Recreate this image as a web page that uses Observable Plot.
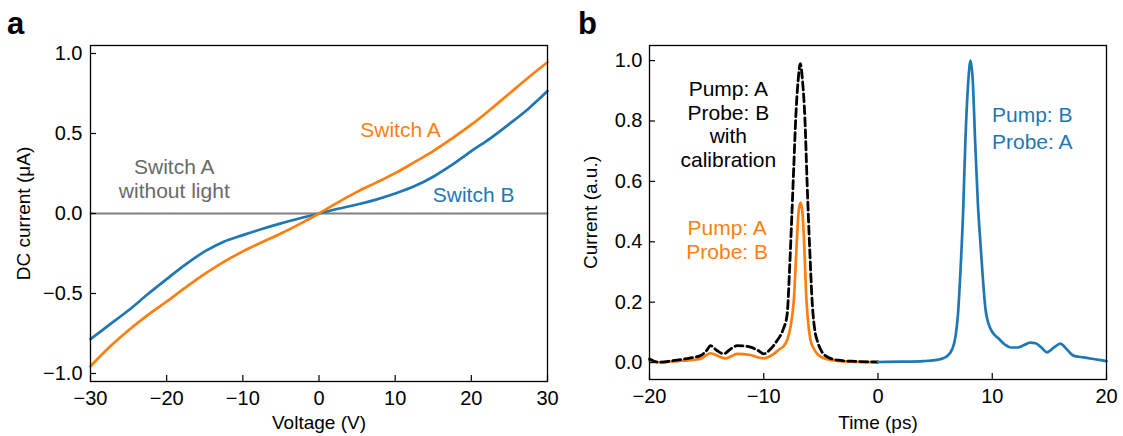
<!DOCTYPE html>
<html>
<head>
<meta charset="utf-8">
<script src="https://cdn.jsdelivr.net/npm/d3@7"></script>
<script src="https://cdn.jsdelivr.net/npm/@observablehq/plot@0.6"></script>
<style>
  html, body { margin: 0; padding: 0; background: #fff; }
  #root { position: relative; width: 1123px; height: 436px; overflow: hidden; font-family: "Liberation Sans", Arial, sans-serif; }
  .panel { position: absolute; top: 0; }
  .letter { position: absolute; font-weight: bold; font-size: 31px; line-height: 1; font-family: "Liberation Sans", Arial, sans-serif; }
</style>
</head>
<body>
<div id="root">
  <div id="pa" class="panel" style="left:0px"></div>
  <div id="pb" class="panel" style="left:561px"></div>
  <div class="letter" style="left:7px; top:8px">a</div>
  <div class="letter" style="left:578px; top:8px">b</div>
</div>
<script>
// ---------- Panel a data ----------
const aVoltage = [-30,-27.5,-25,-22.5,-20,-17.5,-15,-12.5,-10,-7.5,-5,-2.5,0,2.5,5,7.5,10,12.5,15,17.5,20,22.5,25,27.5,30];
const aSwitchA = [-0.955,-0.835,-0.73,-0.635,-0.55,-0.462,-0.378,-0.302,-0.237,-0.18,-0.125,-0.065,0,0.07,0.135,0.193,0.252,0.32,0.39,0.47,0.555,0.65,0.75,0.85,0.945];
const aSwitchB = [-0.785,-0.695,-0.605,-0.505,-0.41,-0.318,-0.237,-0.176,-0.135,-0.097,-0.062,-0.03,0,0.03,0.056,0.087,0.125,0.17,0.23,0.305,0.39,0.47,0.56,0.655,0.765];
const aDarkVoltage = [-30, 30];
const aDarkCurrent = [0, 0];
const aXTicks = [-30,-20,-10,0,10,20,30];
const aYTicks = [-1,-0.5,0,0.5,1];
const aLabels = ["Switch A\nwithout light", "Switch A", "Switch B"];
const aLabelX = [-19, 10.7, 20.3];
const aLabelY = [0.22, 0.525, 0.12];

// ---------- Panel b data ----------
const bTimeA = [-20,-19,-17.5,-16,-15.5,-14.66,-14,-13.35,-12.8,-12.32,-11.16,-10.5,-10,-9.5,-9.12,-8.6,-8.24,-7.95,-7.65,-7.37,-7.07,-6.95,-6.78,-6.62,-6.5,-6.26,-6.05,-5.9,-5.6,-5.32,-4.8,-4,-2.5,0];
const bPumpA = [0.007,0.001,0.005,0.01,0.013,0.031,0.022,0.014,0.022,0.029,0.025,0.017,0.014,0.02,0.029,0.045,0.055,0.075,0.12,0.205,0.426,0.5,0.53,0.5,0.426,0.205,0.11,0.073,0.045,0.029,0.015,0.008,0.003,0.001];
const bTimeCal = [-20,-19.2,-18,-16.5,-15.54,-15,-14.66,-14.1,-13.5,-12.9,-12.32,-11.16,-10.5,-10,-9.4,-8.83,-8.3,-7.95,-7.75,-7.55,-7.37,-7.2,-7.0,-6.8,-6.6,-6.4,-6.2,-5.97,-5.76,-5.5,-5.32,-4.9,-4.5,-3.5,-2,0];
const bPumpACal = [0.012,0.001,0.006,0.015,0.023,0.04,0.056,0.04,0.029,0.045,0.056,0.051,0.04,0.029,0.045,0.073,0.11,0.16,0.3,0.48,0.65,0.81,0.93,0.99,0.93,0.81,0.59,0.37,0.2,0.1,0.073,0.035,0.02,0.008,0.004,0.002];
const bTimeB = [0,2,4,5,5.5,6,6.5,6.8,7.0,7.2,7.45,7.65,7.9,8.1,8.3,8.5,8.75,8.96,9.4,9.8,10.1,10.6,11.1,11.6,12.2,12.8,13.3,13.8,14.3,14.8,15.4,15.96,16.5,17.1,18,19,20];
const bPumpB = [0.002,0.003,0.005,0.008,0.012,0.02,0.045,0.09,0.16,0.29,0.5,0.735,0.93,1.0,0.93,0.735,0.52,0.40,0.18,0.116,0.096,0.078,0.06,0.05,0.05,0.058,0.066,0.064,0.05,0.034,0.05,0.063,0.045,0.023,0.017,0.011,0.005];
const bXTicks = [-20,-10,0,10,20];
const bYTicks = [0,0.2,0.4,0.6,0.8,1.0];
const bLabels = ["Pump: A\nProbe: B\nwith\ncalibration", "Pump: A\nProbe: B", "Pump: B\nProbe: A"];
const bLabelX = [-13.1, -13.2, 13.5];
const bLabelY = [0.79, 0.407, 0.78];

// ---------- styles ----------
const ORANGE = "#ff7f0e", BLUE = "#1f77b4", GRAY = "#808080", DIMGRAY = "#696969";
const FONT = "'Liberation Sans', Arial, sans-serif";
const TICK_FS = 20, LABEL_FS = 19, NOTE_FS = 21;
const fmt1 = d3.format(".1f");
const fmt0 = d3.format("d");

function inwardTicks(xt, yt, innerW, innerH) {
  return [
    Plot.tickX(xt, {x: d => d, insetTop: innerH - 6, stroke: "black", strokeWidth: 1.2}),
    Plot.tickY(yt, {y: d => d, insetRight: innerW - 6, stroke: "black", strokeWidth: 1.2})
  ];
}

// ---------- Panel a ----------
{
  const W = 561, H = 436, mL = 90, mR = 14, mT = 45, mB = 55;
  const annot = aLabels.map((t, i) => ({t, x: aLabelX[i], y: aLabelY[i]}));
  const colors = [DIMGRAY, ORANGE, BLUE];
  const chart = Plot.plot({
    width: W, height: H, marginLeft: mL, marginRight: mR, marginTop: mT, marginBottom: mB,
    style: {fontFamily: FONT, fontSize: LABEL_FS + "px", color: "black", background: "transparent"},
    x: {domain: [-30, 30]},
    y: {domain: [-1.05, 1.05]},
    marks: [
      Plot.line(aDarkCurrent, {x: aDarkVoltage, y: aDarkCurrent, stroke: GRAY, strokeWidth: 2}),
      Plot.line(aSwitchB, {x: aVoltage, y: aSwitchB, stroke: BLUE, strokeWidth: 2.7, curve: "catmull-rom"}),
      Plot.line(aSwitchA, {x: aVoltage, y: aSwitchA, stroke: ORANGE, strokeWidth: 2.7, curve: "catmull-rom"}),
      Plot.text(annot, {x: "x", y: "y", text: "t", fill: (d, i) => colors[i], fontSize: NOTE_FS, lineHeight: 1.15, textAnchor: "middle", lineAnchor: "middle"}),
      Plot.frame({stroke: "black", strokeWidth: 1.3}),
      ...inwardTicks(aXTicks, aYTicks, W - mL - mR, H - mT - mB),
      Plot.axisX({ticks: aXTicks, tickFormat: fmt0, tickSize: 0, tickPadding: 9, fontSize: TICK_FS, label: null}),
      Plot.axisX({ticks: [], label: "Voltage (V)", labelAnchor: "center", labelArrow: "none", labelOffset: 47, fontSize: LABEL_FS}),
      Plot.axisY({ticks: aYTicks, tickFormat: fmt1, tickSize: 0, tickPadding: 8, fontSize: TICK_FS, label: null}),
      Plot.axisY({ticks: [], label: "DC current (μA)", labelAnchor: "center", labelArrow: "none", labelOffset: 74, fontSize: LABEL_FS})
    ]
  });
  document.getElementById("pa").appendChild(chart);
}

// ---------- Panel b ----------
{
  const W = 562, H = 436, mL = 88, mR = 17, mT = 45, mB = 57;
  const annotLeft = bLabels.slice(0, 2).map((t, i) => ({t, x: bLabelX[i], y: bLabelY[i]}));
  const annotRight = [{t: bLabels[2], x: bLabelX[2], y: bLabelY[2]}];
  const colors = ["black", ORANGE];
  const chart = Plot.plot({
    width: W, height: H, marginLeft: mL, marginRight: mR, marginTop: mT, marginBottom: mB,
    style: {fontFamily: FONT, fontSize: LABEL_FS + "px", color: "black", background: "transparent"},
    x: {domain: [-20, 20]},
    y: {domain: [-0.056, 1.05]},
    marks: [
      Plot.line(bPumpA, {x: bTimeA, y: bPumpA, stroke: ORANGE, strokeWidth: 2.7, curve: "monotone-x"}),
      Plot.line(bPumpACal, {x: bTimeCal, y: bPumpACal, stroke: "black", strokeWidth: 2.8, strokeDasharray: "8,4", curve: "monotone-x"}),
      Plot.line(bPumpB, {x: bTimeB, y: bPumpB, stroke: BLUE, strokeWidth: 2.7, curve: "monotone-x"}),
      Plot.text(annotLeft, {x: "x", y: "y", text: "t", fill: (d, i) => colors[i], fontSize: NOTE_FS, lineHeight: 1.12, textAnchor: "middle", lineAnchor: "middle"}),
      Plot.text(annotRight, {x: "x", y: "y", text: "t", fill: BLUE, fontSize: NOTE_FS, lineHeight: 1.28, textAnchor: "middle", lineAnchor: "middle"}),
      Plot.frame({stroke: "black", strokeWidth: 1.3}),
      ...inwardTicks(bXTicks, bYTicks, W - mL - mR, H - mT - mB),
      Plot.axisX({ticks: bXTicks, tickFormat: fmt0, tickSize: 0, tickPadding: 9, fontSize: TICK_FS, label: null}),
      Plot.axisX({ticks: [], label: "Time (ps)", labelAnchor: "center", labelArrow: "none", labelOffset: 49, fontSize: LABEL_FS}),
      Plot.axisY({ticks: bYTicks, tickFormat: fmt1, tickSize: 0, tickPadding: 7, fontSize: TICK_FS, label: null}),
      Plot.axisY({ticks: [], label: "Current (a.u.)", labelAnchor: "center", labelArrow: "none", labelOffset: 66, fontSize: LABEL_FS})
    ]
  });
  document.getElementById("pb").appendChild(chart);
}
</script>
</body>
</html>
